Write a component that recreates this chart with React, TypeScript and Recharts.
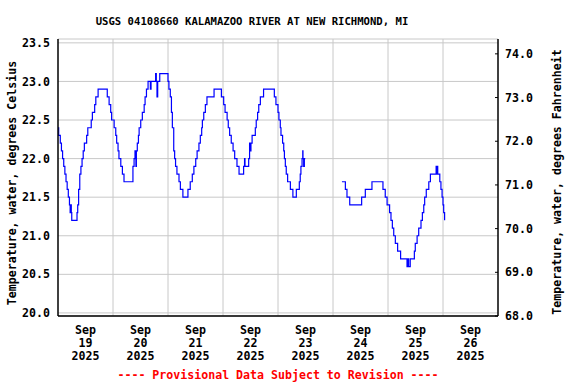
import React from 'react';
import { LineChart, Line, XAxis, YAxis, CartesianGrid, ReferenceLine } from 'recharts';

const FONT = '"DejaVu Sans Mono", "Liberation Mono", monospace';

const chartTitle = 'USGS 04108660 KALAMAZOO RIVER AT NEW RICHMOND, MI';
const footnote = '---- Provisional Data Subject to Revision ----';
const leftTitle = 'Temperature, water, degrees Celsius';
const rightTitle = 'Temperature, water, degrees Fahrenheit';

// x axis: hours since Sep 19 2025 00:00
const dayMonth = 'Sep';
const dayNumbers = ['19', '20', '21', '22', '23', '24', '25', '26'];
const dayYear = '2025';
const labelHours = [12, 36, 60, 84, 108, 132, 156, 180];
const midnightHours = [24, 48, 72, 96, 120, 144, 168];
const xDomain = [0, 192];

const celsiusTicks = [20.0, 20.5, 21.0, 21.5, 22.0, 22.5, 23.0, 23.5];
const celsiusDomain = [19.96, 23.55];
const fahrenheitTicks = [68, 69, 70, 71, 72, 73, 74];
const fahrenheitDomain = [68.0, 74.34];

// [hour, degrees Celsius]
const segmentA: [number, number][] = [
  [0, 22.4], [0.3, 22.3], [1, 22.2], [1.5, 22.1], [2, 22.0], [2.5, 21.9], [3, 21.8], [3.5, 21.7],
  [4, 21.6], [4.5, 21.5], [5, 21.4], [5.3, 21.3], [5.5, 21.4], [5.8, 21.3], [6, 21.2], [8, 21.2],
  [8.3, 21.3], [8.6, 21.4], [9, 21.6], [9.5, 21.8], [10, 21.9], [10.5, 22.0], [11, 22.1], [11.5, 22.2],
  [12.5, 22.3], [13, 22.4], [14, 22.4], [14.5, 22.5], [15, 22.6], [16, 22.7], [16.5, 22.8], [17.5, 22.9],
  [20.8, 22.9], [21.5, 22.8], [22.3, 22.7], [23, 22.6], [23.4, 22.5], [24.5, 22.4], [25.2, 22.3],
  [25.6, 22.2], [26.2, 22.1], [26.6, 22.0], [27.4, 21.9], [28.1, 21.8], [28.8, 21.7], [32.5, 21.7],
  [32.7, 21.9], [33.2, 22.0], [33.6, 22.1], [34, 21.9], [34.2, 22.1], [34.6, 22.2], [35.1, 22.3],
  [35.4, 22.4], [36.1, 22.5], [36.8, 22.6], [37.6, 22.7], [38, 22.8], [38.6, 22.9], [39.3, 23.0],
  [40, 23.0], [40.3, 22.9], [40.6, 23.0], [42.4, 23.0], [42.6, 23.1], [42.9, 23.0], [43.2, 22.8],
  [43.5, 23.0], [44.4, 23.1], [47.3, 23.1], [48, 23.0], [48.4, 22.9], [49, 22.8], [49.5, 22.6],
  [49.9, 22.4], [50.5, 22.1], [50.9, 22.0], [51.3, 21.9], [51.9, 21.8], [52.8, 21.7], [53.4, 21.6],
  [54.5, 21.5], [56.3, 21.5], [56.7, 21.6], [57.7, 21.7], [58.6, 21.8], [59.3, 21.9], [60.1, 22.0],
  [60.7, 22.1], [61.5, 22.2], [62.1, 22.3], [62.7, 22.4], [63, 22.5], [63.6, 22.6], [64.3, 22.7],
  [65, 22.8], [68.1, 22.9], [70.8, 22.9], [71.3, 22.8], [72.3, 22.7], [72.9, 22.6], [73.8, 22.5],
  [74.3, 22.4], [74.9, 22.3], [75.6, 22.2], [76.4, 22.1], [77.1, 22.0], [78.1, 21.9], [79, 21.8],
  [80.7, 21.8], [81, 21.9], [81.4, 22.0], [81.6, 21.9], [83.1, 21.9], [83.2, 22.0], [83.6, 22.2],
  [83.9, 22.1], [84.2, 22.2], [84.7, 22.3], [85.8, 22.3], [86.1, 22.4], [86.5, 22.5], [87.1, 22.6],
  [87.6, 22.7], [88.3, 22.8], [89.7, 22.9], [93.8, 22.9], [94.4, 22.8], [95.1, 22.7], [96, 22.6],
  [96.4, 22.5], [97, 22.4], [97.3, 22.3], [98, 22.2], [98.5, 22.1], [98.8, 22.0], [99.2, 21.9],
  [99.6, 21.8], [100.2, 21.7], [101.4, 21.6], [102.5, 21.5], [103.6, 21.5], [104, 21.6], [105, 21.6],
  [105.3, 21.7], [105.7, 21.8], [106, 21.9], [106.5, 22.0], [106.8, 22.1], [106.9, 22.0], [107.2, 21.9],
  [107.5, 22.0], [107.9, 22.0],
];

const gapHour = 116;

const segmentB: [number, number][] = [
  [123.9, 21.7], [125.1, 21.7], [125.4, 21.6], [125.8, 21.6], [126.1, 21.5], [126.7, 21.5],
  [127.3, 21.4], [132.2, 21.4], [132.5, 21.5], [133.8, 21.5], [134.1, 21.6], [136.7, 21.6],
  [137, 21.7], [141.5, 21.7], [141.8, 21.6], [142.8, 21.5], [143.6, 21.4], [144.7, 21.3],
  [145.3, 21.2], [145.9, 21.1], [146.5, 21.0], [147.2, 20.9], [148.2, 20.8], [149.5, 20.7],
  [152, 20.7], [152.3, 20.6], [152.6, 20.7], [153, 20.6], [153.5, 20.6], [153.7, 20.7],
  [155.3, 20.7], [155.5, 20.8], [155.9, 20.9], [156.7, 21.0], [157.4, 21.1], [158.4, 21.2],
  [159, 21.3], [159.6, 21.4], [160, 21.5], [160.7, 21.6], [161.8, 21.7], [162.5, 21.8],
  [164.7, 21.8], [165, 21.9], [165.2, 21.8], [165.4, 21.9], [165.7, 21.8], [166.6, 21.7],
  [167.1, 21.6], [167.6, 21.5], [168, 21.4], [168.3, 21.3], [168.7, 21.2],
];

const data: { t: number; c: number | null }[] = [
  ...segmentA.map(([t, c]) => ({ t, c })),
  { t: gapHour, c: null },
  ...segmentB.map(([t, c]) => ({ t, c })),
];

const textStyle = { fontFamily: FONT, fontWeight: 'bold' as const, fontSize: 11.6, fill: '#000' };

const DayTick = (props: any) => {
  const { x, y, payload } = props;
  const i = labelHours.indexOf(payload.value);
  return (
    <text x={x} y={y} textAnchor="middle" {...textStyle}>
      <tspan x={x} y={y + 10}>{dayMonth}</tspan>
      <tspan x={x} y={y + 23}>{dayNumbers[i]}</tspan>
      <tspan x={x} y={y + 36}>{dayYear}</tspan>
    </text>
  );
};

export default function App() {
  return (
    <div style={{ position: 'absolute', left: 0, top: 0, width: 576, height: 384, background: '#fff' }}>
      <LineChart
        width={576}
        height={384}
        data={data}
        margin={{ top: 39, right: 0, bottom: 0, left: 0 }}
      >
        <CartesianGrid vertical={false} stroke="#c8c8c8" strokeWidth={1} />
        {midnightHours.map((h) => (
          <ReferenceLine key={h} x={h} stroke="#c8c8c8" strokeWidth={1} />
        ))}
        <XAxis
          dataKey="t"
          type="number"
          domain={xDomain}
          ticks={labelHours}
          allowDataOverflow
          height={68}
          tickLine={false}
          axisLine={{ stroke: '#000', strokeWidth: 1.5 }}
          tick={<DayTick />}
          interval={0}
        />
        <XAxis
          xAxisId="top"
          orientation="top"
          type="number"
          domain={xDomain}
          height={0}
          tick={false}
          tickLine={false}
          axisLine={{ stroke: '#000', strokeWidth: 1.5 }}
        />
        <YAxis
          type="number"
          domain={celsiusDomain}
          ticks={celsiusTicks}
          allowDataOverflow
          width={58}
          tickLine={false}
          axisLine={{ stroke: '#000', strokeWidth: 1.5 }}
          tick={textStyle}
          tickFormatter={(v: number) => v.toFixed(1)}
          interval={0}
        />
        <YAxis
          yAxisId="f"
          orientation="right"
          type="number"
          domain={fahrenheitDomain}
          ticks={fahrenheitTicks}
          allowDataOverflow
          width={78}
          tickSize={-3}
          tickMargin={10}
          tickLine={{ stroke: '#000' }}
          axisLine={{ stroke: '#000', strokeWidth: 1.5 }}
          tick={textStyle}
          tickFormatter={(v: number) => v.toFixed(1)}
          interval={0}
        />
        <Line
          dataKey="c"
          type="stepAfter"
          stroke="#0000ff"
          strokeWidth={1.2}
          dot={false}
          connectNulls={false}
          isAnimationActive={false}
        />
      </LineChart>
      <svg
        width={576}
        height={384}
        style={{ position: 'absolute', left: 0, top: 0, pointerEvents: 'none' }}
      >
        <text x={252} y={21} textAnchor="middle" dominantBaseline="central" {...textStyle} fontSize={10.6}>
          {chartTitle}
        </text>
        <text x={278} y={375} textAnchor="middle" dominantBaseline="central" {...textStyle} fill="#ff0000">
          {footnote}
        </text>
        <text
          x={12}
          y={183}
          textAnchor="middle"
          dominantBaseline="central"
          transform="rotate(-90 12 183)"
          {...textStyle}
        >
          {leftTitle}
        </text>
        <text
          x={557}
          y={182}
          textAnchor="middle"
          dominantBaseline="central"
          transform="rotate(-90 557 182)"
          {...textStyle}
        >
          {rightTitle}
        </text>
      </svg>
    </div>
  );
}
